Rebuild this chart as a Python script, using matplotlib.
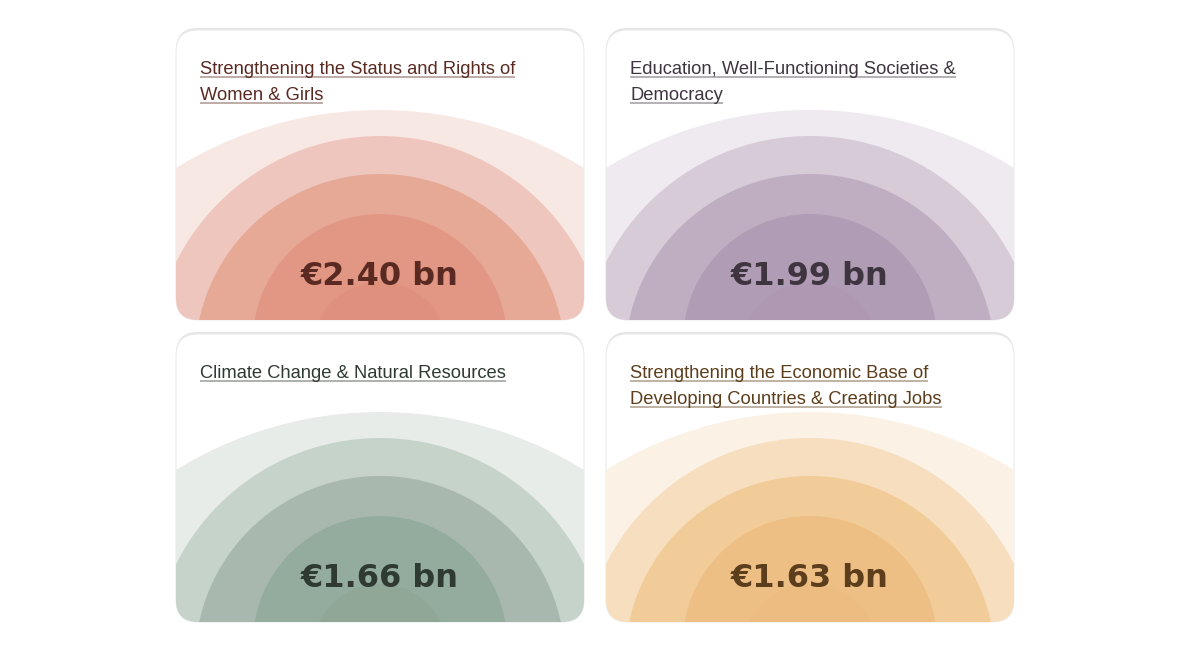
import matplotlib.pyplot as plt
from matplotlib.patches import Circle, FancyBboxPatch

# Card contents
titles = [
    "Strengthening the Status and Rights of\nWomen & Girls",
    "Education, Well-Functioning Societies &\nDemocracy",
    "Climate Change & Natural Resources",
    "Strengthening the Economic Base of\nDeveloping Countries & Creating Jobs",
]
amounts_bn = [2.40, 1.99, 1.66, 1.63]

# ring shades per card, outermost first
ring_colors = [
    ["#F8E8E4", "#EFC6BE", "#E6A996", "#E19784", "#E0917D"],
    ["#EFEAF0", "#D6CBD7", "#BFAEC2", "#B19CB5", "#AE98B2"],
    ["#E8ECE9", "#C6D3CB", "#A8B8AF", "#94AC9E", "#90A797"],
    ["#FCF1E5", "#F6DEBE", "#F1CB98", "#EEBF84", "#EDBC80"],
]
text_colors = ["#5A2A22", "#3F3541", "#2F3A33", "#5C3E1C"]


def main() -> None:
    fig = plt.figure(figsize=(11.9, 6.45), dpi=100)
    ax = fig.add_axes([0, 0, 1, 1])
    ax.set_xlim(0, 1190)
    ax.set_ylim(645, 0)
    ax.axis("off")
    renderer = fig.canvas.get_renderer()

    # card boxes in pixels: left, top, width, height
    cards = [(176, 30, 408, 290), (606, 30, 408, 290),
             (176, 334, 408, 288), (606, 334, 408, 288)]
    # ring radius and how far its centre sits below the card bottom
    rings = [(388, 178), (228, 44), (185, 39), (127, 21), (68, 30)]

    for k, (x0, y0, w, h) in enumerate(cards):
        shadow = FancyBboxPatch((x0, y0 - 2), w, h, boxstyle="round,pad=0,rounding_size=22",
                                facecolor="#E3E3E3", edgecolor="none", zorder=1)
        ax.add_patch(shadow)
        card = FancyBboxPatch((x0, y0), w, h, boxstyle="round,pad=0,rounding_size=22",
                              facecolor="white", edgecolor="#ECECEC", lw=0.8, zorder=2)
        ax.add_patch(card)

        cx = x0 + w / 2
        bottom = y0 + h
        for (r, drop), col in zip(rings, ring_colors[k]):
            c = Circle((cx, bottom + drop), r, facecolor=col, edgecolor="none", zorder=3)
            ax.add_patch(c)
            c.set_clip_path(card)

        tc = text_colors[k]
        for i, line in enumerate(titles[k].split("\n")):
            yb = y0 + 44 + 26 * i
            t = ax.text(x0 + 24, yb, line, fontsize=13.2, family="Liberation Sans",
                        color=tc, va="baseline", ha="left", zorder=5)
            tw = t.get_window_extent(renderer).width
            ax.plot([x0 + 24, x0 + 24 + tw], [yb + 3, yb + 3], color=tc,
                    alpha=0.5, lw=1.1, solid_capstyle="butt", zorder=4)

        ax.text(cx, bottom - 35, f"€{amounts_bn[k]:.2f} bn", fontsize=23, weight="bold",
                family="DejaVu Sans", color=tc, ha="center", va="baseline", zorder=5)

    fig.savefig("out.png", dpi=100)


if __name__ == "__main__":
    main()
